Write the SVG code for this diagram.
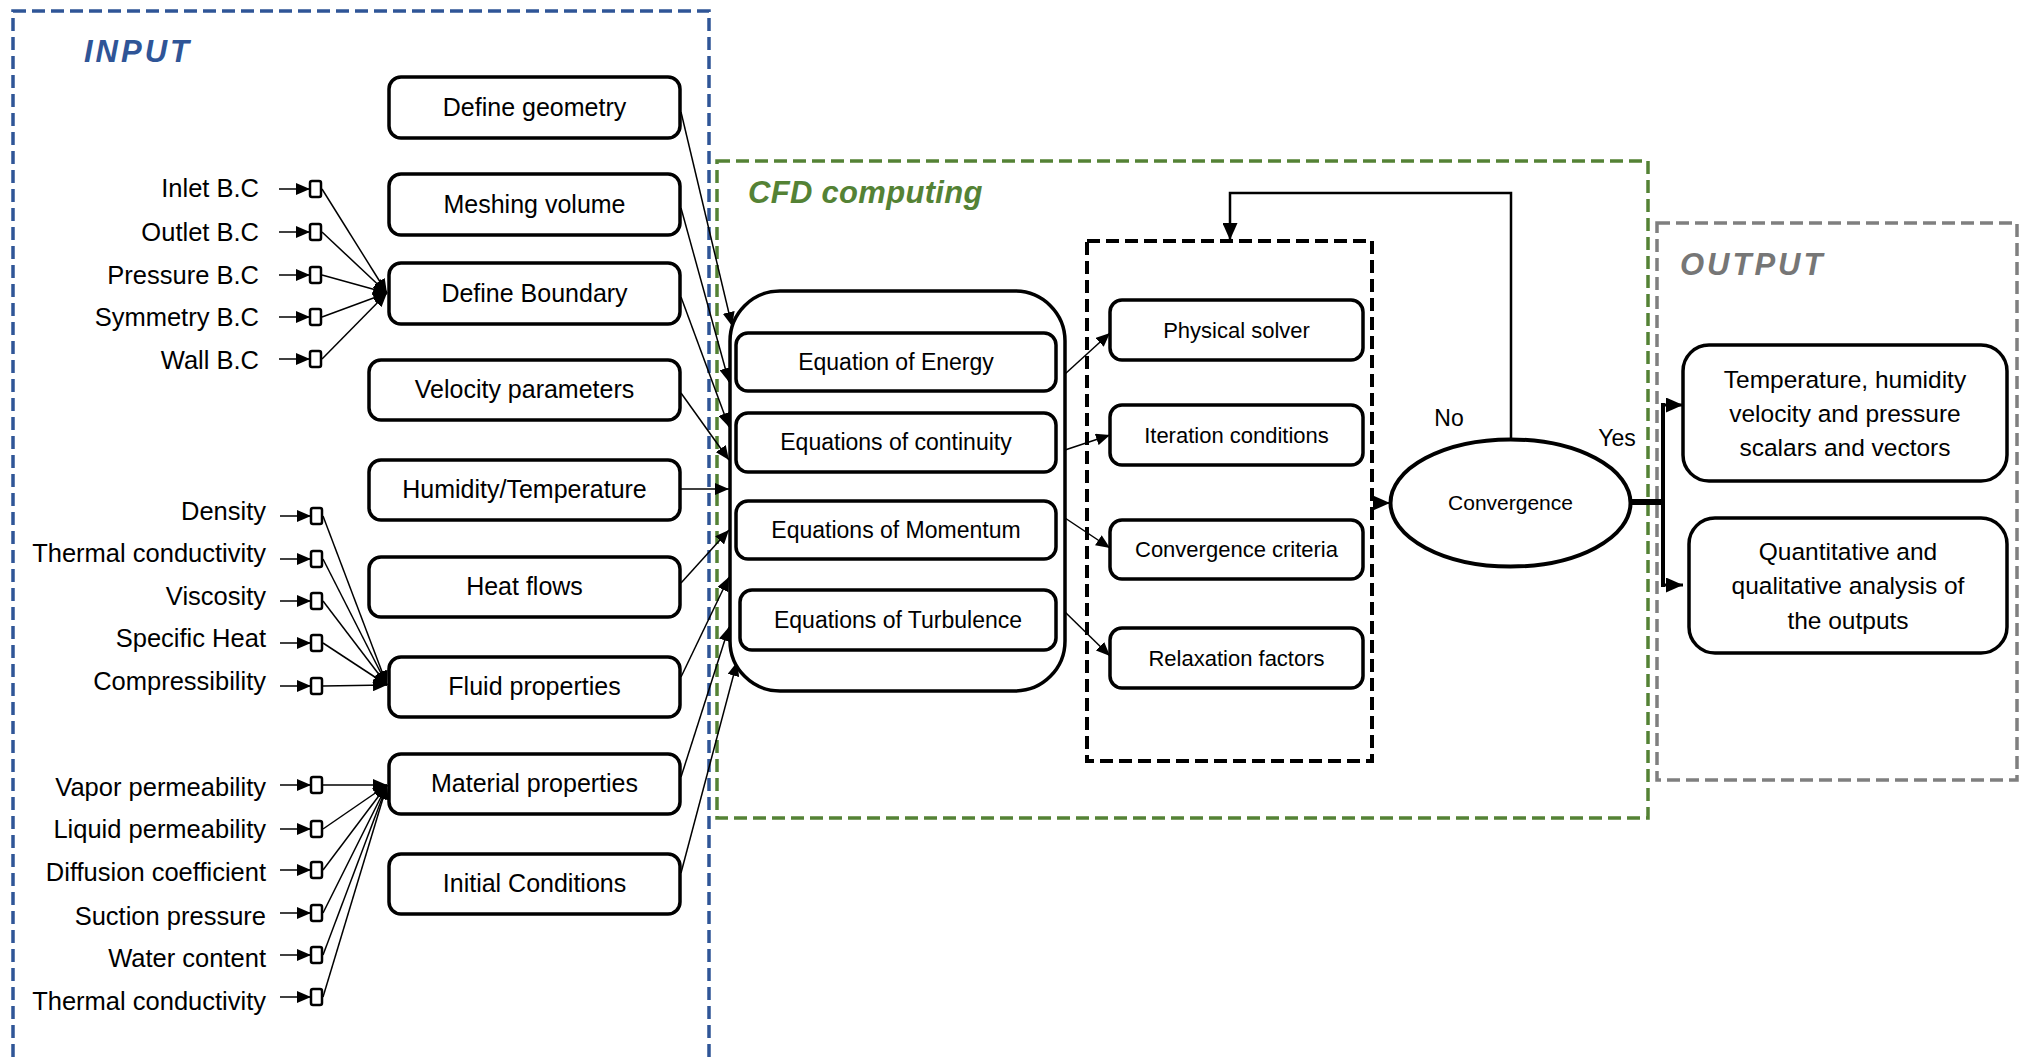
<svg xmlns="http://www.w3.org/2000/svg" width="2022" height="1062" viewBox="0 0 2022 1062">
  <style>
    text { font-family: "Liberation Sans", Arial, sans-serif; fill: #000; }
    .box { fill: #fff; stroke: #000; stroke-width: 3.5; }
    .pin { fill: #fff; stroke: #000; stroke-width: 2.5; }
    .lbl { font-size: 25px; text-anchor: middle; }
    .eq { font-size: 23px; text-anchor: middle; }
    .sv { font-size: 22px; text-anchor: middle; }
    .par { font-size: 25.5px; text-anchor: end; }
    .out { font-size: 24.5px; text-anchor: middle; }
    .title { font-size: 31px; font-weight: bold; font-style: italic; }
    .thin { fill: none; stroke: #000; stroke-width: 1.5; }
    .grp { fill: none; stroke-width: 3.5; stroke-dasharray: 13 6; }
  </style>
  <defs>
    <marker id="arr" viewBox="0 0 14 12" refX="14" refY="6" markerWidth="14" markerHeight="12" markerUnits="userSpaceOnUse" orient="auto">
      <path d="M0,0 L14,6 L0,12 Z" fill="#000"/>
    </marker>
    <marker id="arrL" viewBox="0 0 17 15" refX="17" refY="7.5" markerWidth="17" markerHeight="15" markerUnits="userSpaceOnUse" orient="auto">
      <path d="M0,0 L17,7.5 L0,15 Z" fill="#000"/>
    </marker>
  </defs>

  <rect width="2022" height="1062" fill="#fff"/>

  <!-- group frames -->
  <g id="frames">
    <rect class="grp" x="13" y="11" width="696" height="1100" stroke="#2F5597"/>
    <text class="title" x="84" y="62" style="fill:#2F5597; letter-spacing:3px">INPUT</text>
    <rect class="grp" x="717" y="161" width="931" height="657" stroke="#548235"/>
    <text class="title" x="748" y="203" style="fill:#548235; letter-spacing:0.3px">CFD computing</text>
    <rect class="grp" x="1657" y="223" width="360" height="557" stroke="#7F7F7F"/>
    <text class="title" x="1680" y="275" style="fill:#767676; letter-spacing:3px">OUTPUT</text>
    <rect x="1087" y="241" width="285" height="520" fill="none" stroke="#000" stroke-width="4" stroke-dasharray="13 6"/>
  </g>

  <!-- connectors -->
  <g id="connectors">
    <g class="thin" marker-end="url(#arr)">
      <!-- boundary conditions -->
      <path d="M279,189 L310,189"/>
      <path d="M279,232 L310,232"/>
      <path d="M279,275 L310,275"/>
      <path d="M279,317 L310,317"/>
      <path d="M279,359 L310,359"/>
      <path d="M322,189 L387,293"/>
      <path d="M322,232 L387,293"/>
      <path d="M322,275 L387,293"/>
      <path d="M322,317 L387,293"/>
      <path d="M322,359 L387,293"/>
      <!-- fluid properties -->
      <path d="M280,516 L311,516"/>
      <path d="M280,559 L311,559"/>
      <path d="M280,601 L311,601"/>
      <path d="M280,643 L311,643"/>
      <path d="M280,686 L311,686"/>
      <path d="M323,516 L387,685"/>
      <path d="M323,559 L387,685"/>
      <path d="M323,601 L387,685"/>
      <path d="M323,643 L387,685"/>
      <path d="M323,686 L387,685"/>
      <!-- material properties -->
      <path d="M280,785 L311,785"/>
      <path d="M280,829 L311,829"/>
      <path d="M280,870 L311,870"/>
      <path d="M280,913 L311,913"/>
      <path d="M280,955 L311,955"/>
      <path d="M280,997 L311,997"/>
      <path d="M323,785 L387,785"/>
      <path d="M323,829 L387,785"/>
      <path d="M323,870 L387,785"/>
      <path d="M323,913 L387,785"/>
      <path d="M323,955 L387,785"/>
      <path d="M323,997 L387,785"/>
      <!-- inputs into the governing equations -->
      <path d="M681,112 L732,326"/>
      <path d="M681,208 L729,382"/>
      <path d="M681,297 L729,427"/>
      <path d="M681,393 L729,460"/>
      <path d="M681,489 L729,489"/>
      <path d="M681,583 L729,530"/>
      <path d="M681,677 L729,577"/>
      <path d="M681,777 L729,627"/>
      <path d="M681,873 L737,662"/>
      <!-- equations to solver settings -->
      <path d="M1065,374 L1110,333"/>
      <path d="M1065,450 L1110,435"/>
      <path d="M1065,518 L1110,548"/>
      <path d="M1065,612 L1110,656"/>
    </g>
    <path d="M1373,503 L1390,503" fill="none" stroke="#000" stroke-width="2" marker-end="url(#arrL)"/>
    <!-- "No" loop back -->
    <path d="M1511,440 L1511,193 L1230,193 L1230,240" fill="none" stroke="#000" stroke-width="2.5" marker-end="url(#arrL)"/>
    <!-- "Yes" branch -->
    <path d="M1631,502 L1665,502" fill="none" stroke="#000" stroke-width="6"/>
    <path d="M1663,403 L1663,587" fill="none" stroke="#000" stroke-width="4"/>
    <path d="M1661,405 L1683,405" fill="none" stroke="#000" stroke-width="3" marker-end="url(#arrL)"/>
    <path d="M1661,585 L1683,585" fill="none" stroke="#000" stroke-width="3" marker-end="url(#arrL)"/>
  </g>

  <!-- input pins -->
  <g id="pins">
    <rect class="pin" x="310" y="181" width="11" height="16" rx="2"/>
    <rect class="pin" x="310" y="224" width="11" height="16" rx="2"/>
    <rect class="pin" x="310" y="267" width="11" height="16" rx="2"/>
    <rect class="pin" x="310" y="309" width="11" height="16" rx="2"/>
    <rect class="pin" x="310" y="351" width="11" height="16" rx="2"/>
    <rect class="pin" x="311" y="508" width="11" height="16" rx="2"/>
    <rect class="pin" x="311" y="551" width="11" height="16" rx="2"/>
    <rect class="pin" x="311" y="593" width="11" height="16" rx="2"/>
    <rect class="pin" x="311" y="635" width="11" height="16" rx="2"/>
    <rect class="pin" x="311" y="678" width="11" height="16" rx="2"/>
    <rect class="pin" x="311" y="777" width="11" height="16" rx="2"/>
    <rect class="pin" x="311" y="821" width="11" height="16" rx="2"/>
    <rect class="pin" x="311" y="862" width="11" height="16" rx="2"/>
    <rect class="pin" x="311" y="905" width="11" height="16" rx="2"/>
    <rect class="pin" x="311" y="947" width="11" height="16" rx="2"/>
    <rect class="pin" x="311" y="989" width="11" height="16" rx="2"/>
  </g>

  <!-- parameter labels -->
  <g id="parameters">
    <text class="par" x="259" y="197">Inlet B.C</text>
    <text class="par" x="259" y="241">Outlet B.C</text>
    <text class="par" x="259" y="284">Pressure B.C</text>
    <text class="par" x="259" y="326">Symmetry B.C</text>
    <text class="par" x="259" y="369">Wall B.C</text>
    <text class="par" x="266" y="520">Density</text>
    <text class="par" x="266" y="562">Thermal conductivity</text>
    <text class="par" x="266" y="605">Viscosity</text>
    <text class="par" x="266" y="647">Specific Heat</text>
    <text class="par" x="266" y="690">Compressibility</text>
    <text class="par" x="266" y="796">Vapor permeability</text>
    <text class="par" x="266" y="838">Liquid permeability</text>
    <text class="par" x="266" y="881">Diffusion coefficient</text>
    <text class="par" x="266" y="925">Suction pressure</text>
    <text class="par" x="266" y="967">Water content</text>
    <text class="par" x="266" y="1010">Thermal conductivity</text>
  </g>

  <!-- input nodes -->
  <g id="define-geometry"><rect class="box" x="389" y="77" width="291" height="61" rx="12"/><text class="lbl" x="534.5" y="116">Define geometry</text></g>
  <g id="meshing-volume"><rect class="box" x="389" y="174" width="291" height="61" rx="12"/><text class="lbl" x="534.5" y="213">Meshing volume</text></g>
  <g id="define-boundary"><rect class="box" x="389" y="263" width="291" height="61" rx="12"/><text class="lbl" x="534.5" y="302">Define Boundary</text></g>
  <g id="velocity-parameters"><rect class="box" x="369" y="360" width="311" height="60" rx="12"/><text class="lbl" x="524.5" y="398">Velocity parameters</text></g>
  <g id="humidity-temperature"><rect class="box" x="369" y="460" width="311" height="60" rx="12"/><text class="lbl" x="524.5" y="498">Humidity/Temperature</text></g>
  <g id="heat-flows"><rect class="box" x="369" y="557" width="311" height="60" rx="12"/><text class="lbl" x="524.5" y="595">Heat flows</text></g>
  <g id="fluid-properties"><rect class="box" x="389" y="657" width="291" height="60" rx="12"/><text class="lbl" x="534.5" y="695">Fluid properties</text></g>
  <g id="material-properties"><rect class="box" x="389" y="754" width="291" height="60" rx="12"/><text class="lbl" x="534.5" y="792">Material properties</text></g>
  <g id="initial-conditions"><rect class="box" x="389" y="854" width="291" height="60" rx="12"/><text class="lbl" x="534.5" y="892">Initial Conditions</text></g>

  <!-- governing equations -->
  <g id="equations">
    <rect class="box" x="730" y="291" width="335" height="400" rx="50"/>
  </g>
  <g id="eq-energy"><rect class="box" x="736" y="333" width="320" height="58" rx="12"/><text class="eq" x="896" y="370">Equation of Energy</text></g>
  <g id="eq-continuity"><rect class="box" x="736" y="413" width="320" height="59" rx="12"/><text class="eq" x="896" y="450">Equations of continuity</text></g>
  <g id="eq-momentum"><rect class="box" x="736" y="501" width="320" height="58" rx="12"/><text class="eq" x="896" y="538">Equations of Momentum</text></g>
  <g id="eq-turbulence"><rect class="box" x="740" y="590" width="316" height="60" rx="12"/><text class="eq" x="898" y="628">Equations of Turbulence</text></g>

  <!-- solver settings -->
  <g id="physical-solver"><rect class="box" x="1110" y="300" width="253" height="60" rx="12"/><text class="sv" x="1236.5" y="338">Physical solver</text></g>
  <g id="iteration-conditions"><rect class="box" x="1110" y="405" width="253" height="60" rx="12"/><text class="sv" x="1236.5" y="443">Iteration conditions</text></g>
  <g id="convergence-criteria"><rect class="box" x="1110" y="520" width="253" height="59" rx="12"/><text class="sv" x="1236.5" y="557">Convergence criteria</text></g>
  <g id="relaxation-factors"><rect class="box" x="1110" y="628" width="253" height="60" rx="12"/><text class="sv" x="1236.5" y="666">Relaxation factors</text></g>

  <!-- decision -->
  <g id="convergence">
    <ellipse cx="1510.5" cy="503" rx="120" ry="63.5" fill="#fff" stroke="#000" stroke-width="4"/>
    <text x="1510.5" y="510" style="font-size:21px; text-anchor:middle">Convergence</text>
  </g>
  <g id="branch-labels">
    <text x="1449" y="426" style="font-size:23px; text-anchor:middle">No</text>
    <text x="1617" y="446" style="font-size:23px; text-anchor:middle">Yes</text>
  </g>

  <!-- results -->
  <g id="result-fields">
    <rect class="box" x="1683" y="345" width="324" height="136" rx="26"/>
    <text class="out" x="1845" y="388">Temperature, humidity</text>
    <text class="out" x="1845" y="422">velocity and pressure</text>
    <text class="out" x="1845" y="456">scalars and vectors</text>
  </g>
  <g id="result-analysis">
    <rect class="box" x="1689" y="518" width="318" height="135" rx="26"/>
    <text class="out" x="1848" y="560">Quantitative and</text>
    <text class="out" x="1848" y="594">qualitative analysis of</text>
    <text class="out" x="1848" y="629">the outputs</text>
  </g>
</svg>
